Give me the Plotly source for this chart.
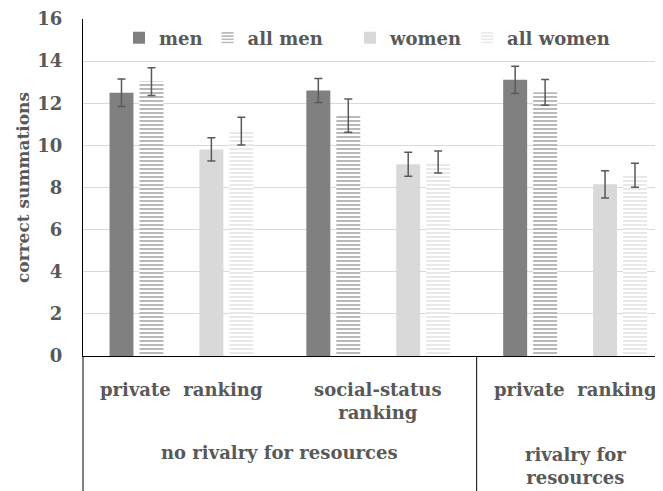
import plotly.graph_objects as go

categories = ["private ranking", "social-status ranking", "private ranking (rivalry)"]
series_names = ["men", "all men", "women", "all women"]
men = [12.50, 12.60, 13.11]
men_err = [0.65, 0.57, 0.65]
all_men = [13.03, 11.41, 12.52]
all_men_err = [0.66, 0.79, 0.61]
women = [9.81, 9.10, 8.15]
women_err = [0.55, 0.57, 0.65]
all_women = [10.68, 9.21, 8.58]
all_women_err = [0.66, 0.52, 0.57]
y_ticks = [0, 2, 4, 6, 8, 10, 12, 14, 16]
cat_labels = ["private  ranking", "social-status<br>ranking", "private  ranking"]
group_labels = ["no rivalry for resources", "rivalry for<br>resources"]
group_spans = [(0, 1), (2, 2)]

FONT = "DejaVu Serif"
TXT = "#595959"
x = list(range(len(categories)))

# page body adds an 8px offset; margins compensate for it
OFF = 8
L, T, W, H = 83 - OFF, 19 - OFF, 663, 491
B = H - (356 - OFF)
PW = W - L
PH = 337

def bar(name, vals, errs, color, pattern=None, legend="legend"):
    marker = dict(color=color if pattern is None else "white", line=dict(width=0))
    if pattern is not None:
        marker["pattern"] = dict(shape="-", fgcolor=pattern, bgcolor="white", size=4, solidity=0.5)
    return go.Bar(
        x=x, y=vals, name=name, marker=marker, legend=legend,
        error_y=dict(type="data", array=errs, visible=True, color=TXT, thickness=1.5, width=4),
    )

fig = go.Figure()
fig.add_trace(bar(series_names[0], men, men_err, "#808080"))
fig.add_trace(bar(series_names[1], all_men, all_men_err, None, pattern="#737373"))
fig.add_trace(go.Bar(x=x, y=[None] * len(x), name="", showlegend=False, marker=dict(color="rgba(0,0,0,0)")))
fig.add_trace(bar(series_names[2], women, women_err, "#d9d9d9", legend="legend2"))
fig.add_trace(bar(series_names[3], all_women, all_women_err, None, pattern="#d4d4d4", legend="legend2"))

def sx(px):  # screen x -> paper x
    return (px - 83) / PW

def sy(py):  # screen y -> paper y
    return -(py - 356) / PH

leg_font = dict(family=FONT, size=18, color=TXT, weight="bold")
fig.update_layout(
    width=W, height=H,
    margin=dict(l=L, r=0, t=T, b=B, autoexpand=False),
    plot_bgcolor="white", paper_bgcolor="white",
    barmode="group", bargap=0.239, bargroupgap=0.2,
    font=dict(family=FONT, color=TXT, size=18, weight="bold"),
    legend=dict(orientation="h", x=sx(119), y=sy(38), yanchor="middle", xanchor="left",
                font=leg_font, bgcolor="rgba(0,0,0,0)", itemwidth=30, traceorder="normal"),
    legend2=dict(orientation="h", x=sx(350), y=sy(38), yanchor="middle", xanchor="left",
                 font=leg_font, bgcolor="rgba(0,0,0,0)", itemwidth=30, traceorder="normal"),
    showlegend=True,
)
x_right = (663 + OFF - 82.5) / 197 - 0.5
fig.update_xaxes(range=[-0.5, x_right], showticklabels=False, showgrid=False, zeroline=False,
                 showline=True, linecolor="black", linewidth=1, ticks="", automargin=False)
fig.update_yaxes(range=[0, 16], tickvals=y_ticks, showgrid=True, gridcolor="#d9d9d9", gridwidth=1,
                 zeroline=False, showline=True, linecolor="black", linewidth=1, ticks="",
                 ticklabelstandoff=16, automargin=False,
                 tickfont=dict(family=FONT, size=18, color=TXT, weight="bold"),
                 title=dict(text="correct summations", standoff=3,
                            font=dict(family=FONT, size=17, color=TXT, weight="bold")))

# table lines below the axis
bottom = sy(500)
fig.add_shape(type="line", xref="paper", yref="paper", x0=0, x1=0, y0=bottom, y1=0,
              line=dict(color="black", width=1))
sep = group_spans[0][1] + 0.5
fig.add_shape(type="line", xref="x", yref="paper", x0=sep, x1=sep, y0=bottom, y1=0,
              line=dict(color="black", width=1))

def ann(text, xv, py):
    fig.add_annotation(text=text, xref="x", yref="paper",
                       x=xv, y=sy(py), xanchor="center", yanchor="middle",
                       showarrow=False, align="center",
                       font=dict(family=FONT, size=18, color=TXT, weight="bold"))

cat_y = [389, 401, 389]
for i, lab in enumerate(cat_labels):
    ann(lab, x[i], cat_y[i])
grp_y = [452, 466]
for (a, b), lab, gy in zip(group_spans, group_labels, grp_y):
    ann(lab, (a - 0.5 + b + 0.5) / 2, gy)

fig.write_html("out.html")
